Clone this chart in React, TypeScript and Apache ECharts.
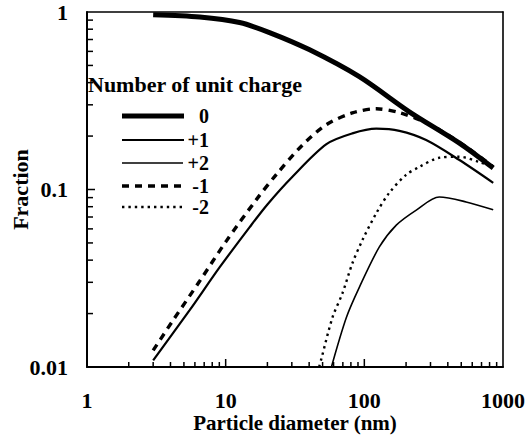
import React, { useEffect, useRef } from "react";
import * as echarts from "echarts";

// Charge distribution of aerosol particles vs. diameter (log-log)
const neutralD = [3, 6.5, 12.6, 20.7, 40, 92, 211, 482, 850];
const neutralF = [0.965, 0.937, 0.872, 0.766, 0.614, 0.432, 0.274, 0.183, 0.132];

const plus1D = [3, 5.5, 9.06, 14.9, 20, 30.3, 53.3, 82, 122, 179, 279, 482, 850];
const plus1F = [0.0109, 0.0209, 0.0365, 0.0614, 0.0824, 0.118, 0.18, 0.207, 0.22, 0.214, 0.19, 0.147, 0.109];

const plus2D = [57.9, 74.2, 92, 128, 170, 237, 347, 542, 850];
const plus2F = [0.01, 0.019, 0.0281, 0.0473, 0.063, 0.0766, 0.0907, 0.0851, 0.0768];

const minus1D = [3, 4.15, 6.5, 10.1, 16.7, 23.3, 35.8, 53.3, 82, 122, 179, 249, 347, 542, 850];
const minus1F = [0.0124, 0.0182, 0.0305, 0.0512, 0.088, 0.122, 0.178, 0.232, 0.27, 0.285, 0.271, 0.247, 0.217, 0.174, 0.134];

const minus2D = [47.2, 49.1, 58.9, 69.5, 82, 96.8, 122, 151, 200, 249, 347, 482, 672, 850];
const minus2F = [0.01, 0.0112, 0.019, 0.026, 0.0384, 0.0518, 0.0736, 0.0956, 0.121, 0.134, 0.151, 0.153, 0.143, 0.134];

const legendTitle = "Number of unit charge";
const chargeLabels = ["0", "+1", "+2", "-1", "-2"];

const xMajorTicks = [10, 100];
const xMinorTicks = [2, 3, 4, 5, 6, 7, 8, 9, 20, 30, 40, 50, 60, 70, 80, 90, 200, 300, 400, 500, 600, 700, 800, 900];
const yMajorTicks = [0.1];
const yMinorTicks = [0.02, 0.03, 0.04, 0.05, 0.06, 0.07, 0.08, 0.09, 0.2, 0.3, 0.4, 0.5, 0.6, 0.7, 0.8, 0.9];

const FONT = "'Liberation Serif', 'Times New Roman', serif";

const X_MIN = 1;
const X_MAX = 1000;
const Y_MIN = 0.01;
const Y_MAX = 1;

const GRID = { left: 87, top: 12, width: 416, height: 355 };

const zip = (xs: number[], ys: number[]) => xs.map((x, i) => [x, ys[i]]);

// line styles shared by the curves and the legend keys
const styles = [
  { width: 5, dash: null as number[] | null },
  { width: 2.2, dash: null },
  { width: 1.6, dash: null },
  { width: 3.4, dash: [7, 6] },
  { width: 2.4, dash: [2.4, 4] },
];

export default function App() {
  const ref = useRef<HTMLDivElement>(null);

  useEffect(() => {
    if (!ref.current) return;
    const chart = echarts.init(ref.current, undefined, { renderer: "svg" });

    const curves = [
      zip(neutralD, neutralF),
      zip(plus1D, plus1F),
      zip(plus2D, plus2F),
      zip(minus1D, minus1F),
      zip(minus2D, minus2F),
    ];

    const lineSeries = curves.map((data, i) => ({
      type: "line",
      name: chargeLabels[i],
      data,
      smooth: 0.3,
      showSymbol: false,
      symbol: "none",
      clip: true,
      lineStyle: {
        color: "#000",
        width: styles[i].width,
        type: styles[i].dash ? styles[i].dash : "solid",
        cap: "butt",
      },
      z: 3,
    }));

    // inward tick marks along the bottom and left edges of the log-log box
    const xPos = (v: number) =>
      GRID.left + (GRID.width * Math.log10(v / X_MIN)) / Math.log10(X_MAX / X_MIN);
    const yPos = (v: number) =>
      GRID.top + GRID.height * (1 - Math.log10(v / Y_MIN) / Math.log10(Y_MAX / Y_MIN));
    const bottom = GRID.top + GRID.height;
    const tickLine = (x1: number, y1: number, x2: number, y2: number) => ({
      type: "line",
      silent: true,
      z: 20,
      shape: { x1, y1, x2, y2 },
      style: { stroke: "#000", lineWidth: 1.5 },
    });
    const tickGraphics = [
      ...xMinorTicks.map((v) => tickLine(xPos(v), bottom, xPos(v), bottom - 5)),
      ...xMajorTicks.map((v) => tickLine(xPos(v), bottom, xPos(v), bottom - 8)),
      ...yMinorTicks.map((v) => tickLine(GRID.left, yPos(v), GRID.left + 6, yPos(v))),
      ...yMajorTicks.map((v) => tickLine(GRID.left, yPos(v), GRID.left + 8, yPos(v))),
    ];

    const legendX0 = 122;
    const legendX1 = 184;
    const legendYs = [116, 140, 163, 186, 207];

    const legendGraphics: any[] = [
      {
        type: "text",
        left: 88,
        top: 73,
        style: {
          text: legendTitle,
          font: `bold 22px ${FONT}`,
          fill: "#000",
        },
      },
    ];
    legendYs.forEach((y, i) => {
      legendGraphics.push({
        type: "line",
        shape: { x1: legendX0, y1: y, x2: i === 2 ? 183 : legendX1, y2: y },
        style: {
          stroke: "#000",
          lineWidth: styles[i].width,
          lineDash: styles[i].dash || undefined,
        },
      });
      legendGraphics.push({
        type: "text",
        x: 209,
        y,
        style: {
          text: chargeLabels[i],
          font: `bold 20px ${FONT}`,
          fill: "#000",
          align: "right",
          verticalAlign: "middle",
        },
      });
    });

    const fmt = (v: number) => String(Number(v.toPrecision(3)));
    const labelStyle = {
      fontFamily: FONT,
      fontWeight: "bold",
      fontSize: 22,
      color: "#000",
      formatter: fmt,
    };
    const frameAxis = {
      axisLine: { show: true, onZero: false, lineStyle: { color: "#000", width: 1.6 } },
      axisTick: { show: false },
      axisLabel: { show: false },
      splitLine: { show: false },
    };

    chart.setOption({
      animation: false,
      backgroundColor: "#fff",
      grid: {
        ...GRID,
        containLabel: false,
        outerBoundsMode: "none",
        show: false,
      },
      xAxis: [
        {
          type: "log",
          logBase: 10,
          min: X_MIN,
          max: X_MAX,
          name: "Particle diameter (nm)",
          nameLocation: "middle",
          nameGap: 45,
          nameMoveOverlap: false,
          nameTextStyle: { fontFamily: FONT, fontWeight: "bold", fontSize: 21, color: "#000" },
          axisLine: { show: true, onZero: false, lineStyle: { color: "#000", width: 2 } },
          axisTick: { show: false },
          axisLabel: { margin: 22, ...labelStyle },
          splitLine: { show: false },
        },
        { type: "log", position: "top", min: X_MIN, max: X_MAX, ...frameAxis },
      ],
      yAxis: [
        {
          type: "log",
          logBase: 10,
          min: Y_MIN,
          max: Y_MAX,
          name: "Fraction",
          nameLocation: "middle",
          nameGap: 56,
          nameRotate: 90,
          nameMoveOverlap: false,
          nameTextStyle: { fontFamily: FONT, fontWeight: "bold", fontSize: 22, color: "#000" },
          axisLine: { show: true, onZero: false, lineStyle: { color: "#000", width: 2 } },
          axisTick: { show: false },
          axisLabel: { margin: 19, ...labelStyle },
          splitLine: { show: false },
        },
        { type: "log", position: "right", min: Y_MIN, max: Y_MAX, ...frameAxis },
      ],
      graphic: [...legendGraphics, ...tickGraphics],
      series: lineSeries,
    });

    return () => chart.dispose();
  }, []);

  return (
    <div
      ref={ref}
      style={{ position: "fixed", left: 0, top: 0, width: 530, height: 443 }}
    />
  );
}
